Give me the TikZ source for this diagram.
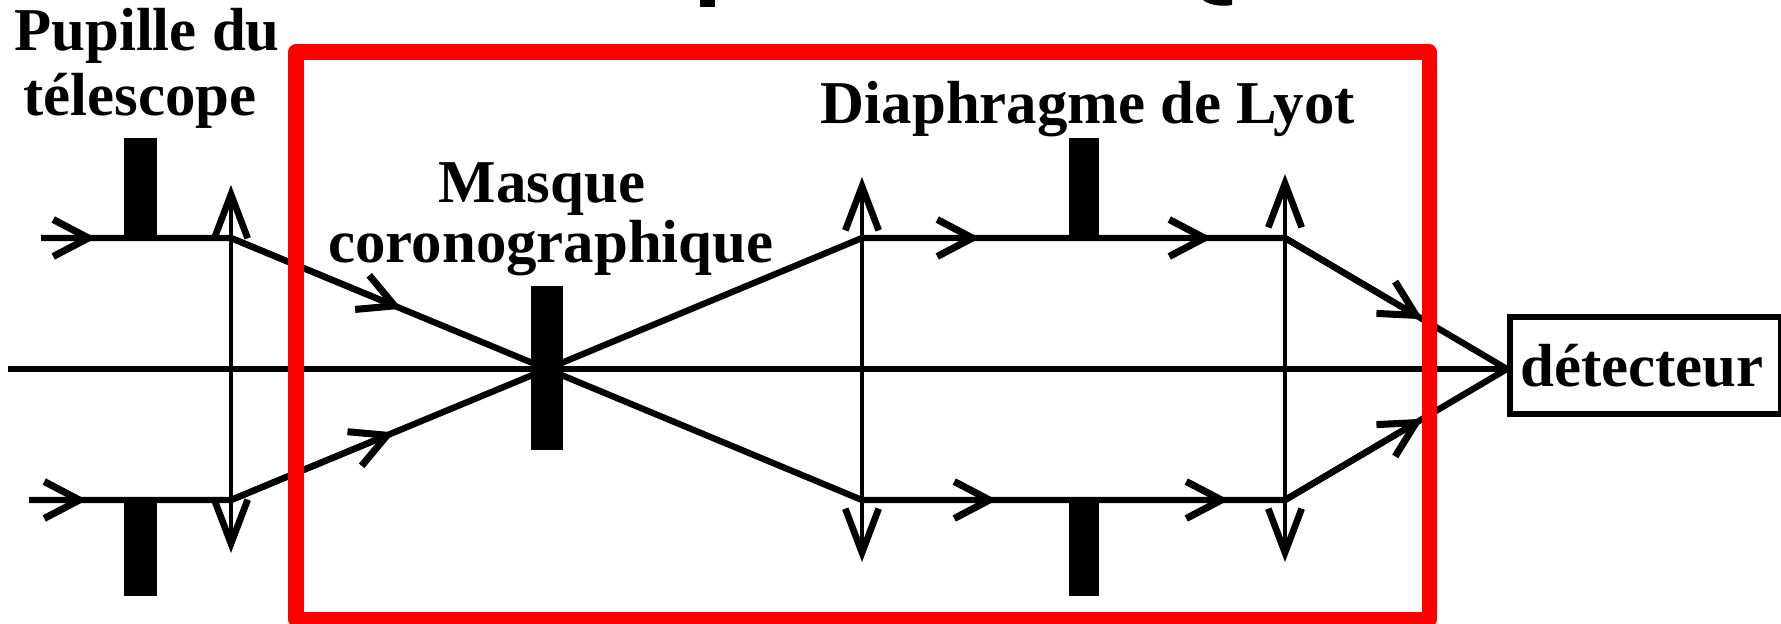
\documentclass[tikz,border=0pt]{standalone}
\usepackage{fontspec}
\setmainfont{Liberation Serif}
\usetikzlibrary{arrows.meta,calc}
\tikzset{
    ray/.style={line width=1.8pt, black},
    optaxis/.style={line width=1.6pt, black},
    flecheray/.style={line width=1.8pt, black, -{Straight Barb[length=10pt, width=10.5pt, line width=2pt]}},
    lentille/.style={line width=1pt, black, {Straight Barb[length=12.5pt, width=9.5pt, line width=1.9pt]}-{Straight Barb[length=12.5pt, width=9.5pt, line width=1.9pt]}},
    cache/.style={fill=black},
    legende/.style={font=\fontsize{17.3pt}{20pt}\selectfont\bfseries, anchor=base, inner sep=0pt},
    boite/.style={draw, line width=1.7pt, font=\fontsize{17.3pt}{20pt}\selectfont\bfseries, inner sep=0pt, minimum width=2.71cm, minimum height=0.97cm},
    cadre/.style={draw=red, line width=4.27pt, line join=round}
}
\begin{document}
\begin{tikzpicture}[x=0.01cm, y=-0.01cm]
    \useasboundingbox (0,0) rectangle (1781,624);

    % 1. Points of the beam
    \coordinate (axeG) at (8,369);
    \coordinate (focal) at (547,369);
    \coordinate (hautA) at (231,238);
    \coordinate (basA) at (231,500);
    \coordinate (hautB) at (862,238);
    \coordinate (basB) at (862,500);
    \coordinate (hautC) at (1285,238);
    \coordinate (basC) at (1285,500);

    % 2. Detector
    \node[boite] (detecteur) at (1645.5,365.5) {détecteur\hspace*{2pt}};
    \coordinate (cible) at (detecteur.west |- focal);

    % 3. Optical axis and rays
    \draw[optaxis] (axeG) -- (cible);
    \coordinate (entreeH) at (41,238);
    \coordinate (entreeB) at (29,500);
    \coordinate (flA) at (96,238);
    \coordinate (flB) at (87,500);
    \draw[flecheray] (entreeH) -- (flA);
    \draw[flecheray] (entreeB) -- (flB);
    \draw[ray] (entreeH) -- (hautA) -- (focal) -- (basB) -- (basC) -- (cible);
    \draw[ray] (entreeB) -- (basA) -- (focal) -- (hautB) -- (hautC) -- (cible);
    \coordinate (flC) at ($(hautA)!0.54!(focal)$);
    \coordinate (flD) at ($(basA)!0.516!(focal)$);
    \draw[flecheray] (hautA) -- (flC);
    \draw[flecheray] (basA) -- (flD);
    \coordinate (flE) at (980,238);
    \coordinate (flF) at (1212,238);
    \coordinate (flG) at (997,500);
    \coordinate (flH) at (1229,500);
    \draw[flecheray] (hautB) -- (flE);
    \draw[flecheray] (hautB) -- (flF);
    \draw[flecheray] (basB) -- (flG);
    \draw[flecheray] (basB) -- (flH);
    \coordinate (flI) at ($(hautC)!0.62!(cible)$);
    \coordinate (flJ) at ($(basC)!0.62!(cible)$);
    \draw[flecheray] (hautC) -- (flI);
    \draw[flecheray] (basC) -- (flJ);

    % 4. Lenses
    \draw[lentille] (231,553) -- (231,185);
    \draw[lentille] (862,562) -- (862,177);
    \draw[lentille] (1285,562) -- (1285,174);

    % 5. Stops
    \fill[cache] (124,138) rectangle (157,238);
    \fill[cache] (124,500) rectangle (157,596);
    \fill[cache] (531,286) rectangle (563,450);
    \fill[cache] (1069,138) rectangle (1099,238);
    \fill[cache] (1069,500) rectangle (1099,596);

    % 6. Labels
    \node[legende] (pupille) at (147,50) {Pupille du};
    \node[legende] (telescope) at (140,115) {télescope};
    \node[legende] (masque) at (542,202) {Masque};
    \node[legende] (corono) at (551,262) {coronographique};
    \node[legende] (lyot) at (1088,123) {Diaphragme de Lyot};

    % 7. Red frame
    \draw[cadre] (296,52) rectangle (1429,619);

    % 8. Remains of the cut title
    \fill[black] (700,0) rectangle (715,7);
    \fill[black] (1203,0) .. controls (1209,5) and (1222,7) .. (1232,5) -- (1232,0) -- cycle;
\end{tikzpicture}
\end{document}
